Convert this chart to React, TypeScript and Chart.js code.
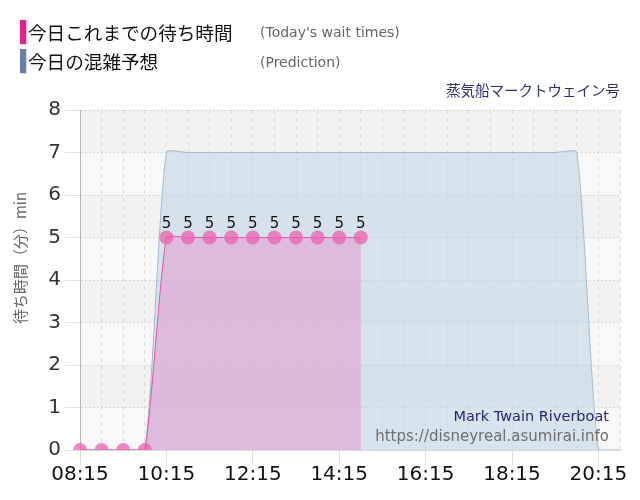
import React, { useEffect, useRef } from "react";
import { Chart, registerables } from "chart.js";

Chart.register(...registerables);

// ---- data ----
const timeLabels = [
  "08:15", "08:45", "09:15", "09:45", "10:15", "10:45", "11:15", "11:45",
  "12:15", "12:45", "13:15", "13:45", "14:15", "14:45", "15:15", "15:45",
  "16:15", "16:45", "17:15", "17:45", "18:15", "18:45", "19:15", "19:45",
  "20:15", "20:45",
];
const waitTimes: (number | null)[] = [
  0, 0, 0, 0, 5, 5, 5, 5, 5, 5, 5, 5, 5, 5,
  null, null, null, null, null, null, null, null, null, null, null, null,
];
const predictedTimes: number[] = [
  0, 0, 0, 0, 7, 7, 7, 7, 7, 7, 7, 7, 7, 7, 7, 7, 7, 7, 7, 7, 7, 7, 7, 7, 0, 0,
];
const yMin = 0;
const yMax = 8;
const labelEvery = 4;

const legendMain = ["今日これまでの待ち時間", "今日の混雑予想"];
const legendSub = ["(Today's wait times)", "(Prediction)"];
const attractionJa = "蒸気船マークトウェイン号";
const attractionEn = "Mark Twain Riverboat";
const siteUrl = "https://disneyreal.asumirai.info";
const yTitle = "待ち時間（分）min";

const LATIN = "'DejaVu Sans', Verdana, sans-serif";
const CJK = "'Noto Sans CJK JP', sans-serif";

const bandsPlugin = {
  id: "bands",
  beforeDraw(chart: any) {
    const { ctx, chartArea } = chart;
    const y = chart.scales.y;
    ctx.save();
    for (let i = yMin; i < yMax; i++) {
      const top = y.getPixelForValue(i + 1);
      const bottom = y.getPixelForValue(i);
      ctx.fillStyle = i % 2 === 0 ? "#f8f8f8" : "#f2f2f2";
      ctx.fillRect(chartArea.left, top, chartArea.right - chartArea.left, bottom - top);
    }
    ctx.restore();
  },
};

const overlayPlugin = {
  id: "overlay",
  afterDatasetsDraw(chart: any) {
    const { ctx, chartArea } = chart;
    ctx.save();
    // value labels on the wait-time points
    const meta = chart.getDatasetMeta(0);
    ctx.font = `15px ${LATIN}`;
    ctx.fillStyle = "#111";
    ctx.textAlign = "center";
    ctx.textBaseline = "alphabetic";
    meta.data.forEach((pt: any, i: number) => {
      const v = waitTimes[i];
      if (v == null || v === 0) return;
      ctx.fillText(String(v), pt.x, pt.y - 10);
    });
    // watermark
    ctx.textAlign = "right";
    ctx.font = `14.5px ${LATIN}`;
    ctx.fillStyle = "#25286e";
    ctx.fillText(attractionEn, chartArea.right - 11, 421);
    ctx.font = `15px ${LATIN}`;
    ctx.fillStyle = "#6e6e6e";
    ctx.fillText(siteUrl, chartArea.right - 11, 441);
    // y title
    ctx.translate(20, 258);
    ctx.rotate(-Math.PI / 2);
    ctx.textAlign = "center";
    ctx.textBaseline = "middle";
    ctx.font = `15px ${CJK}`;
    ctx.fillStyle = "#666";
    ctx.fillText(yTitle, 0, 0);
    ctx.restore();
  },
};

export default function App() {
  const ref = useRef<HTMLCanvasElement | null>(null);

  useEffect(() => {
    if (!ref.current) return;
    const chart = new Chart(ref.current, {
      type: "line",
      data: {
        labels: timeLabels,
        datasets: [
          {
            label: legendMain[0],
            data: waitTimes,
            borderColor: "rgba(228,70,160,0.9)",
            borderWidth: 1,
            backgroundColor: "rgba(225,160,210,0.6)",
            fill: "origin",
            tension: 0.15,
            pointRadius: 7,
            pointBorderWidth: 0,
            pointBackgroundColor: "rgba(238,95,175,0.75)",
            spanGaps: false,
            order: 0,
          },
          {
            label: legendMain[1],
            data: predictedTimes,
            borderColor: "rgba(150,172,195,0.8)",
            borderWidth: 1,
            backgroundColor: "rgba(195,215,230,0.6)",
            fill: "origin",
            tension: 0.2,
            pointRadius: 0,
            order: 1,
          },
        ],
      },
      plugins: [bandsPlugin, overlayPlugin],
      options: {
        animation: false,
        responsive: false,
        devicePixelRatio: 1,
        layout: { padding: { top: 110, right: 20, left: 0, bottom: 0 } },
        plugins: {
          legend: { display: false },
          tooltip: { enabled: false },
        },
        scales: {
          x: {
            type: "category",
            offset: false,
            afterFit(scale: any) {
              scale.height = 50;
            },
            grid: {
              color: "#dcdcdc",
              lineWidth: 1,
              drawTicks: true,
              tickLength: 15,
              tickColor: (c: any) => (c.index % labelEvery === 0 ? "#dedede" : "rgba(0,0,0,0)"),
              tickBorderDash: [],
            },
            border: { display: true, color: "#d8d8d8", dash: [4, 4] },
            ticks: {
              autoSkip: false,
              maxRotation: 0,
              minRotation: 0,
              padding: -2,
              color: "#111",
              font: { family: LATIN, size: 20 },
              callback: (_v: any, i: number) => (i % labelEvery === 0 ? timeLabels[i] : ""),
            },
          },
          y: {
            min: yMin,
            max: yMax,
            afterFit(scale: any) {
              scale.width = 80;
            },
            grid: {
              color: "#d6d6d6",
              lineWidth: 1,
              tickLength: 15,
              tickColor: "#e0e0e0",
            },
            border: { display: true, color: "#b8b4c4", dash: [2, 2] },
            ticks: {
              stepSize: 1,
              padding: 4,
              color: "#333",
              font: { family: LATIN, size: 20 },
            },
          },
        },
      },
    });
    return () => chart.destroy();
  }, []);

  const bar = (color: string, top: number) => (
    <div
      style={{
        position: "absolute",
        left: 20,
        top,
        width: 6,
        height: 24,
        background: color,
        boxShadow: "1px 1px 1px rgba(0,0,0,0.15)",
      }}
    />
  );
  const mainText = (text: string, top: number) => (
    <div
      style={{
        position: "absolute",
        left: 28,
        top,
        fontFamily: CJK,
        fontSize: 18.6,
        lineHeight: "24px",
        color: "#111",
        whiteSpace: "nowrap",
      }}
    >
      {text}
    </div>
  );
  const subText = (text: string, top: number) => (
    <div
      style={{
        position: "absolute",
        left: 260,
        top,
        fontFamily: LATIN,
        fontSize: 14,
        lineHeight: "24px",
        color: "#666",
        whiteSpace: "nowrap",
      }}
    >
      {text}
    </div>
  );

  return (
    <div
      style={{
        position: "absolute",
        left: 0,
        top: 0,
        width: 640,
        height: 500,
        background: "#fff",
        overflow: "hidden",
      }}
    >
      <canvas ref={ref} width={640} height={500} style={{ position: "absolute", left: 0, top: 0 }} />
      {bar("#f01b8c", 20)}
      {bar("#6a7fa8", 49)}
      {mainText(legendMain[0], 20)}
      {mainText(legendMain[1], 49)}
      {subText(legendSub[0], 20)}
      {subText(legendSub[1], 50)}
      <div
        style={{
          position: "absolute",
          right: 20,
          top: 80,
          fontFamily: CJK,
          fontSize: 14.5,
          lineHeight: "20px",
          color: "#2b2d70",
          whiteSpace: "nowrap",
        }}
      >
        {attractionJa}
      </div>
    </div>
  );
}
